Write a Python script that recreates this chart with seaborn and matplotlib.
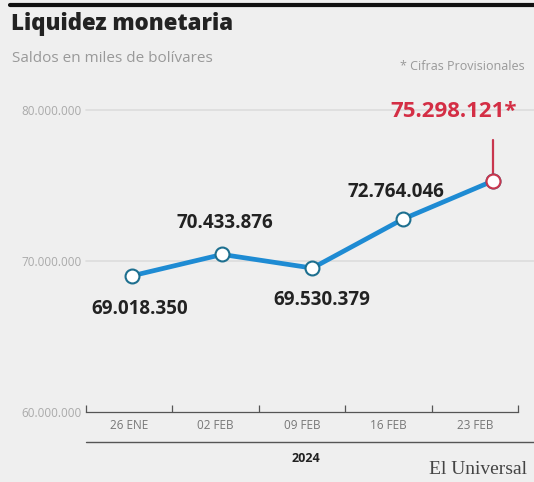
import numpy as np
import pandas as pd
import seaborn as sns
import matplotlib.pyplot as plt

# datos
fechas = ['26 ENE', '02 FEB', '09 FEB', '16 FEB', '23 FEB']
saldos = [69018350, 70433876, 69530379, 72764046, 75298121]
etiquetas = ['69.018.350', '70.433.876', '69.530.379', '72.764.046', '75.298.121*']
yticks = [60000000, 70000000, 80000000]
ytick_labels = ['60.000.000', '70.000.000', '80.000.000']

bg = '#efefef'
sns.set_theme(style='white')
plt.rcParams['font.family'] = ['Open Sans', 'DejaVu Sans']

df = pd.DataFrame({'pos': np.arange(len(fechas)), 'saldo': saldos})

fig = plt.figure(figsize=(5.34, 4.82), dpi=100, facecolor=bg)
ax = fig.add_axes([86/534, 1-412/482, (518-86)/534, (412-110)/482])
ax.set_facecolor(bg)

# limites de categorias (en pixeles de la referencia)
x0, x1 = -0.51, 4.28
ax.set_xlim(x0, x1)
ax.set_ylim(60000000, 80000000)

for y in yticks[1:]:
    ax.axhline(y, color='#dcdcdc', lw=1.2, zorder=0, xmax=1.04, clip_on=False)

sns.lineplot(data=df, x='pos', y='saldo', ax=ax, color='#1e8bd3', lw=3.4,
             marker='o', markersize=10, markerfacecolor='white',
             markeredgecolor='#1d6f8f', markeredgewidth=1.5, zorder=3)

# ultimo punto en rojo
ax.plot([4, 4], [saldos[-1], saldos[-1] + 2.7e6], color='#c9364e', lw=1.6, zorder=2)
ax.scatter([4], [saldos[-1]], s=100, facecolor='white', edgecolor='#c9364e',
           linewidth=1.5, zorder=4)

offs = [(0.09, -2.2e6), (0.03, 2.1e6), (0.1, -2.1e6), (-0.07, 1.8e6), (-0.43, 4.6e6)]
for i, (dx, dy) in enumerate(offs):
    col = '#d42e45' if i == 4 else '#222222'
    fs = 16 if i == 4 else 13.5
    ax.text(i + dx, saldos[i] + dy, etiquetas[i], ha='center', va='center',
            fontsize=fs, fontweight='bold', color=col, clip_on=False)

# eje x
bounds = np.linspace(x0, x1, 6)
ax.set_xticks(bounds)
ax.set_xticklabels([])
ax.tick_params(axis='x', direction='in', length=5, color='#555555', width=0.9, bottom=True)
mids = (bounds[:-1] + bounds[1:]) / 2
for m, f in zip(mids, fechas):
    ax.text(m, 60000000 - 0.45e6, f, ha='center', va='top', fontsize=8.5,
            color='#777777')
ax.set_yticks(yticks)
ax.set_yticklabels(ytick_labels, fontsize=8.5, color='#aaaaaa')
ax.tick_params(axis='y', length=0, pad=3)
for s in ['top', 'right', 'left']:
    ax.spines[s].set_visible(False)
ax.spines['bottom'].set_color('#555555')
ax.spines['bottom'].set_linewidth(0.9)
ax.set_xlabel('')
ax.set_ylabel('')

# linea 2024
fig.add_artist(plt.Line2D([86/534, 1.0], [1-442/482, 1-442/482], color='#555555', lw=1))
fig.text(306/534, 1-459/482, '2024', ha='center', va='center', fontsize=9,
         fontweight='bold', color='#222222')

# titulos
fig.add_artist(plt.Line2D([10/534, 1.0], [1-5/482, 1-5/482], color='#111111', lw=3))
fig.text(11/534, 1-24/482, 'Liquidez monetaria', ha='left', va='center',
         fontsize=16, fontweight='heavy', color='#222222')
fig.text(12/534, 1-58/482, 'Saldos en miles de bolívares', ha='left', va='center',
         fontsize=11, color='#999999')
fig.text(525/534, 1-67/482, '* Cifras Provisionales', ha='right', va='center',
         fontsize=9, color='#999999')
fig.text(527/534, 1-470/482, 'El Universal', ha='right', va='center',
         fontsize=14, color='#444444', family='Liberation Serif')

plt.savefig('out.png', dpi=100, facecolor=bg)
